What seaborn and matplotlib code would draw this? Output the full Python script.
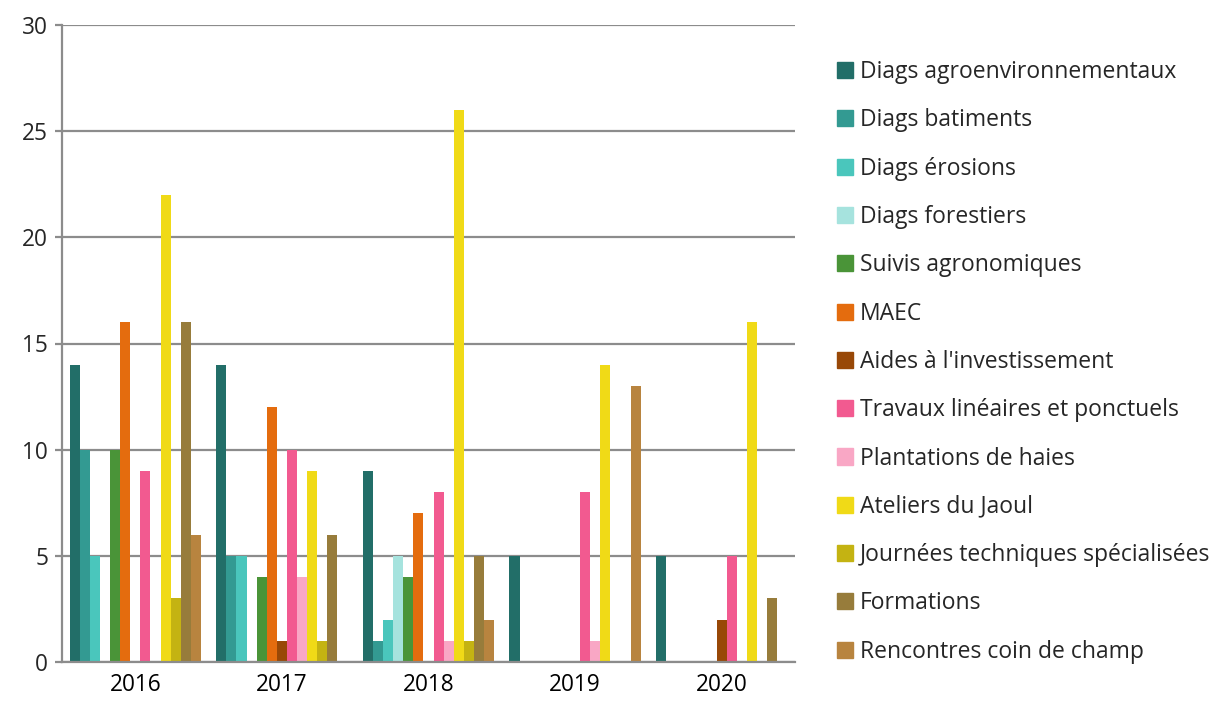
import numpy as np
import pandas as pd
import matplotlib
matplotlib.use("Agg")
import matplotlib.pyplot as plt
import seaborn as sns

years = ["2016", "2017", "2018", "2019", "2020"]
actions = [
    "Diags agroenvironnementaux",
    "Diags batiments",
    "Diags érosions",
    "Diags forestiers",
    "Suivis agronomiques",
    "MAEC",
    "Aides à l'investissement",
    "Travaux linéaires et ponctuels",
    "Plantations de haies",
    "Ateliers du Jaoul",
    "Journées techniques spécialisées",
    "Formations",
    "Rencontres coin de champ",
]
# one list per year, in the order of actions
v2016 = [14, 10, 5, 0, 10, 16, 0, 9, 0, 22, 3, 16, 6]
v2017 = [14, 5, 5, 0, 4, 12, 1, 10, 4, 9, 1, 6, 0]
v2018 = [9, 1, 2, 5, 4, 7, 0, 8, 1, 26, 1, 5, 2]
v2019 = [5, 0, 0, 0, 0, 0, 0, 8, 1, 14, 0, 0, 13]
v2020 = [5, 0, 0, 0, 0, 0, 2, 5, 0, 16, 0, 3, 0]
colors = ["#226E68", "#339A92", "#4AC6BC", "#A6E3DE", "#4A9438", "#E46C0E",
          "#984807", "#F25A90", "#F9A7C5", "#F0DA17", "#C4B312", "#977C3B",
          "#B8843F"]

rows = []
for y, vals in zip(years, [v2016, v2017, v2018, v2019, v2020]):
    for a, v in zip(actions, vals):
        rows.append({"annee": y, "action": a, "n": v})
df = pd.DataFrame(rows)

sns.set_style("white")
plt.rcParams["font.family"] = ["Open Sans", "DejaVu Sans"]

fig = plt.figure(figsize=(12.16, 7.08), dpi=100)
ax = fig.add_axes([62 / 1216, 46 / 708, 733 / 1216, 637 / 708])

sns.barplot(data=df, x="annee", y="n", hue="action", hue_order=actions,
            order=years, palette=colors, width=0.895, linewidth=0,
            saturation=1, ax=ax, legend=False)

grid_c = "#8c8c8c"
ax.set_xlim(-0.5, 4.5)
ax.set_ylim(0, 30)
ax.set_yticks(np.arange(0, 31, 5))
ax.yaxis.grid(True, color=grid_c, linewidth=1.6)
ax.set_axisbelow(True)
ax.set_xlabel("")
ax.set_ylabel("")
for s in ["top", "right"]:
    ax.spines[s].set_visible(False)
for s in ["left", "bottom"]:
    ax.spines[s].set_color(grid_c)
    ax.spines[s].set_linewidth(1.6)

ax.set_xticks(np.arange(-0.5, 5, 1), minor=True)
ax.tick_params(axis="x", which="major", length=0, labelsize=16.3, pad=8,
               colors="black")
ax.tick_params(axis="x", which="minor", length=7, width=1.6, color=grid_c,
               direction="out")
ax.tick_params(axis="y", length=5, width=1.6, color=grid_c, labelsize=16.3,
               pad=5, left=True)

handles = [plt.Rectangle((0, 0), 1, 1, color=c) for c in colors]
fig.legend(handles, actions, loc="upper left",
           bbox_to_anchor=(828 / 1216, 1 - 51 / 708), frameon=False,
           fontsize=16.5, handlelength=0.7, handleheight=0.7,
           handletextpad=0.3, labelspacing=1.06, borderaxespad=0)

fig.savefig("out.png", dpi=100, facecolor="white")
